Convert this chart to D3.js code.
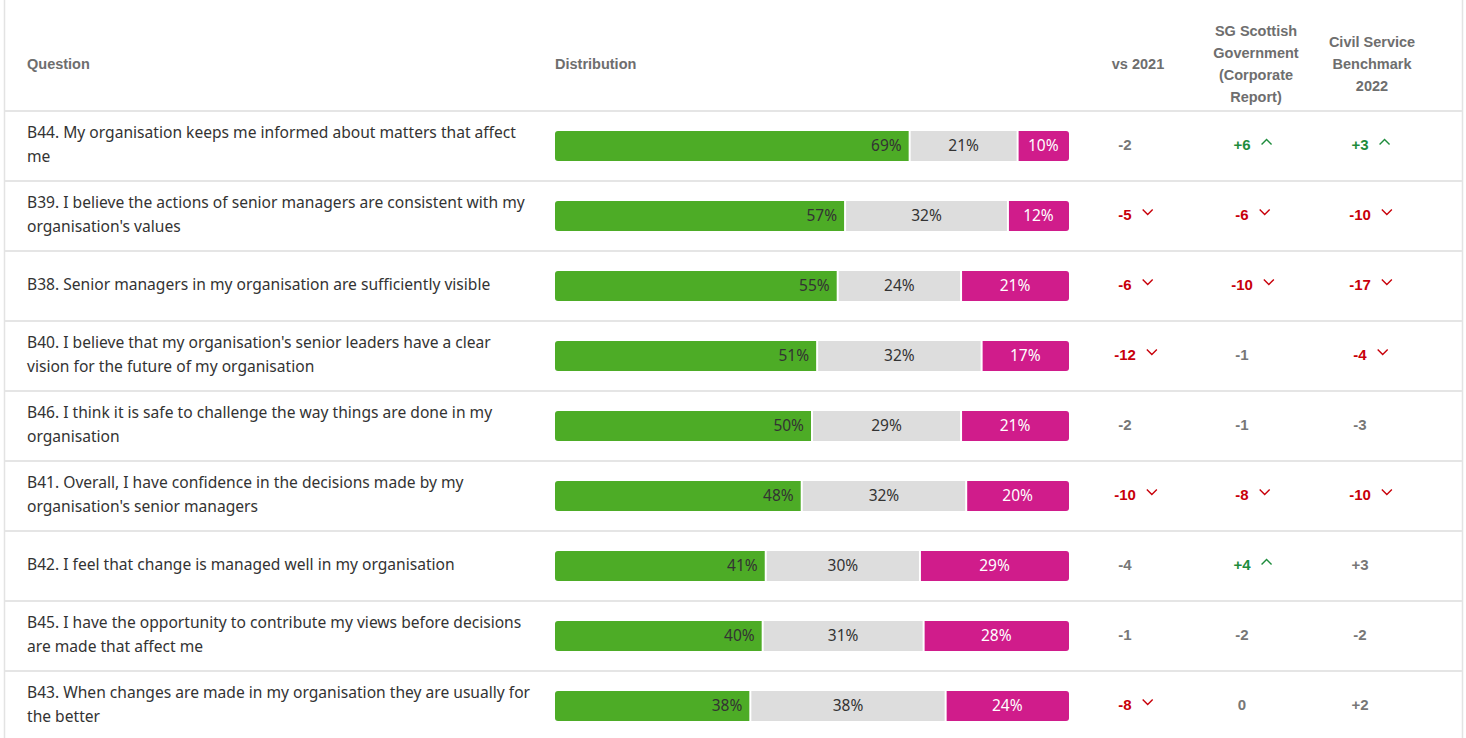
<!DOCTYPE html>
<html>
<head>
<meta charset="utf-8">
<script src="https://cdn.jsdelivr.net/npm/d3@7"></script>
<style>
  body { margin: 0; background: #fff; }
  svg { display: block; font-family: "Liberation Sans", Arial, sans-serif; }
</style>
</head>
<body>
<svg id="chart" width="1466" height="738"></svg>
<script>
// question labels (line breaks as shown in the table)
var questions = [
    ["B44. My organisation keeps me informed about matters that affect", "me"],
    ["B39. I believe the actions of senior managers are consistent with my", "organisation's values"],
    ["B38. Senior managers in my organisation are sufficiently visible"],
    ["B40. I believe that my organisation's senior leaders have a clear", "vision for the future of my organisation"],
    ["B46. I think it is safe to challenge the way things are done in my", "organisation"],
    ["B41. Overall, I have confidence in the decisions made by my", "organisation's senior managers"],
    ["B42. I feel that change is managed well in my organisation"],
    ["B45. I have the opportunity to contribute my views before decisions", "are made that affect me"],
    ["B43. When changes are made in my organisation they are usually for", "the better"]
];
var positive = [69, 57, 55, 51, 50, 48, 41, 40, 38];
var neutral  = [21, 32, 24, 32, 29, 32, 30, 31, 38];
var negative = [10, 12, 21, 17, 21, 20, 29, 28, 24];

var vs2021    = [-2, -5, -6, -12, -2, -10, -4, -1, -8];
var sgCorp    = [6, -6, -10, -1, -1, -8, 4, -2, 0];
var csBench   = [3, -10, -17, -4, -3, -10, 3, -2, 2];
// significance: 1 = up, -1 = down, 0 = none
var vs2021Sig  = [0, -1, -1, -1, 0, -1, 0, 0, -1];
var sgCorpSig  = [1, -1, -1, 0, 0, -1, 1, 0, 0];
var csBenchSig = [1, -1, -1, -1, 0, -1, 0, 0, 0];

var headers = [
    { lines: ["Question"], x: 27, anchor: "start" },
    { lines: ["Distribution"], x: 555, anchor: "start" },
    { lines: ["vs 2021"], x: 1138, anchor: "middle" },
    { lines: ["SG Scottish", "Government", "(Corporate", "Report)"], x: 1256, anchor: "middle" },
    { lines: ["Civil Service", "Benchmark", "2022"], x: 1372, anchor: "middle" }
];

var svg = d3.select("#chart");
var W = 1466, H = 738;
var headH = 110, rowH = 70;
var segColors = ["#4dac26", "#dddddd", "#d01c8b"];
var segText = ["#333333", "#333333", "#ffffff"];
var colX = [1125, 1242, 1360];
var colData = [[vs2021, vs2021Sig], [sgCorp, sgCorpSig], [csBench, csBenchSig]];

var y = d3.scaleBand().domain(d3.range(questions.length))
    .range([headH, headH + rowH * questions.length]);

// outer borders
svg.append("line").attr("x1", 4.5).attr("x2", 4.5).attr("y1", 0).attr("y2", H)
    .attr("stroke", "#e3e3e3").attr("stroke-width", 1.5);
svg.append("line").attr("x1", 1462.5).attr("x2", 1462.5).attr("y1", 0).attr("y2", H)
    .attr("stroke", "#e3e3e3").attr("stroke-width", 1.5);

// header
var hd = svg.append("g").selectAll("text").data(headers).enter()
    .append("text")
    .attr("x", function (d) { return d.x; })
    .attr("text-anchor", function (d) { return d.anchor; })
    .attr("font-size", 14.5).attr("font-weight", "bold").attr("fill", "#6e6e6e");
hd.selectAll("tspan").data(function (d) {
        return d.lines.map(function (l, i) { return { t: l, i: i, n: d.lines.length, x: d.x }; });
    }).enter().append("tspan")
    .attr("x", function (d) { return d.x; })
    .attr("y", function (d) { return 64 + (d.i - (d.n - 1) / 2) * 22; })
    .attr("dy", "0.35em")
    .text(function (d) { return d.t; });

// row separators
svg.append("g").selectAll("line").data(d3.range(questions.length)).enter()
    .append("line")
    .attr("x1", 5).attr("x2", 1462)
    .attr("y1", function (i) { return y(i) + 1; }).attr("y2", function (i) { return y(i) + 1; })
    .attr("stroke", "#e5e5e5").attr("stroke-width", 2);

var rows = svg.append("g").selectAll("g").data(questions).enter()
    .append("g")
    .attr("transform", function (d, i) { return "translate(0," + (y(i) + rowH / 2) + ")"; });

// question text
rows.append("text")
    .attr("font-family", "'Noto Sans', sans-serif")
    .attr("font-size", 15.6).attr("fill", "#333")
    .each(function (d) {
        var t = d3.select(this);
        d.forEach(function (line, j) {
            t.append("tspan").attr("x", 27)
                .attr("y", (j - (d.length - 1) / 2) * 24)
                .attr("dy", "0.35em").text(line);
        });
    });

// stacked distribution bars
var barX0 = 555, barX1 = 1069, barH = 30;
var defs = svg.append("defs");
rows.each(function (q, i) {
    var vals = [positive[i], neutral[i], negative[i]];
    var total = d3.sum(vals);
    var x = d3.scaleLinear().domain([0, total]).range([barX0, barX1]);
    var stack = [];
    var acc = 0;
    vals.forEach(function (v, k) { stack.push({ k: k, v: v, a: acc, b: acc + v }); acc += v; });

    defs.append("clipPath").attr("id", "clip" + i)
        .append("rect").attr("x", barX0).attr("y", -barH / 2 + 1)
        .attr("width", barX1 - barX0).attr("height", barH).attr("rx", 3);

    var g = d3.select(this).append("g").attr("clip-path", "url(#clip" + i + ")");
    g.selectAll("rect").data(stack).enter().append("rect")
        .attr("x", function (d) { return x(d.a) + (d.k > 0 ? 1 : 0); })
        .attr("width", function (d) { return x(d.b) - x(d.a) - (d.k > 0 ? 1 : 0) - (d.k < 2 ? 1 : 0); })
        .attr("y", -barH / 2 + 1).attr("height", barH)
        .attr("fill", function (d) { return segColors[d.k]; });

    d3.select(this).selectAll("text.seg").data(stack).enter().append("text")
        .attr("class", "seg")
        .attr("x", function (d) { return d.k === 0 ? x(d.b) - 8 : (x(d.a) + x(d.b)) / 2; })
        .attr("text-anchor", function (d) { return d.k === 0 ? "end" : "middle"; })
        .attr("y", 1).attr("dy", "0.35em")
        .attr("font-family", "'Noto Sans', sans-serif")
        .attr("font-size", 15.5)
        .attr("fill", function (d) { return segText[d.k]; })
        .text(function (d) { return d.v + "%"; });
});

// comparison columns
function fmt(v) { return v > 0 ? "+" + v : "" + v; }
function sigColor(s) { return s > 0 ? "#1e8c3c" : (s < 0 ? "#c8000a" : "#777777"); }

colData.forEach(function (c, ci) {
    rows.each(function (q, i) {
        var v = c[0][i], s = c[1][i];
        var row = d3.select(this);
        var t = row.append("text")
            .attr("x", colX[ci]).attr("y", 0).attr("dy", "0.35em")
            .attr("text-anchor", "middle")
            .attr("font-size", 15).attr("font-weight", "bold")
            .attr("fill", sigColor(s))
            .text(fmt(v));
        if (s !== 0) {
            var w = t.node().getComputedTextLength();
            var ax = colX[ci] + w / 2 + 16;
            var pts = s > 0 ? [[ax - 5, -0.5], [ax, -5.5], [ax + 5, -0.5]] : [[ax - 5, -5.5], [ax, -0.5], [ax + 5, -5.5]];
            row.append("path")
                .attr("d", d3.line()(pts))
                .attr("fill", "none")
                .attr("stroke", sigColor(s))
                .attr("stroke-width", 1.4);
        }
    });
});
</script>
</body>
</html>
